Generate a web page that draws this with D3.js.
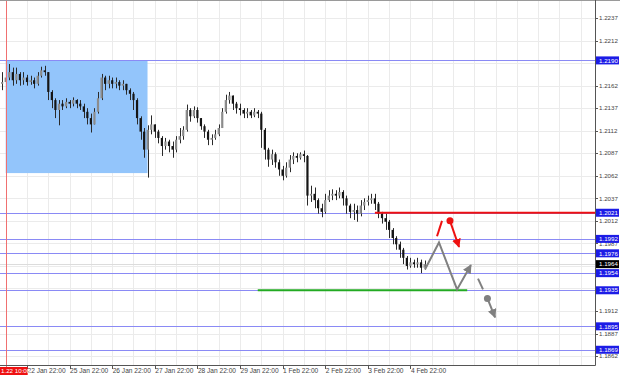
<!DOCTYPE html>
<html>
<head>
<meta charset="utf-8">
<script src="https://cdnjs.cloudflare.com/ajax/libs/d3/7.8.5/d3.min.js"></script>
<style>
  body { margin: 0; background: #fff; }
  svg { display: block; font-family: "Liberation Sans", Arial, sans-serif; }
</style>
</head>
<body>
<div id="plot"></div>
<script>
// H2 bars, first bar opens 22 Jan 07:00 (hour -15 relative to 22 Jan 22:00)
const startHour = -15;
const firstOpen = 1.2164;
const closes = [
  1.2166, 1.2171, 1.2177, 1.2168, 1.2175, 1.2168, 1.2171, 1.2166, 1.2168, 1.2164,
  1.2173, 1.2179, 1.2177, 1.2155, 1.2146, 1.2135, 1.2142, 1.2139, 1.2144, 1.2142,
  1.2146, 1.2142, 1.2139, 1.2133, 1.2126, 1.2119, 1.2133, 1.2148, 1.2171, 1.2164,
  1.2168, 1.2164, 1.2166, 1.2162, 1.2164, 1.2157, 1.2153, 1.2146, 1.2126, 1.2111,
  1.2091, 1.2113, 1.2119, 1.2111, 1.2104, 1.2095, 1.2100, 1.2095, 1.2091, 1.2102,
  1.2106, 1.2113, 1.2135, 1.2128, 1.2135, 1.2126, 1.2117, 1.2111, 1.2102, 1.2104,
  1.2108, 1.2115, 1.2133, 1.2146, 1.2151, 1.2142, 1.2137, 1.2135, 1.2131, 1.2133,
  1.2129, 1.2133, 1.2131, 1.2113, 1.2091, 1.2080, 1.2086, 1.2077, 1.2069, 1.2062,
  1.2071, 1.2080, 1.2084, 1.2082, 1.2086, 1.2084, 1.2040, 1.2042, 1.2035, 1.2026,
  1.2022, 1.2035, 1.2040, 1.2042, 1.2040, 1.2044, 1.2037, 1.2029, 1.2022, 1.2024,
  1.2020, 1.2029, 1.2033, 1.2035, 1.2037, 1.2031, 1.2020, 1.2015, 1.2011, 1.2002,
  1.1993, 1.1986, 1.1980, 1.1971, 1.1962, 1.1966, 1.1964, 1.1966, 1.1960, 1.1964
];
const highs = [
  1.2177, 1.2187, 1.2186, 1.2182, 1.2182, 1.2177, 1.2177, 1.2174, 1.2173, 1.2171,
  1.2177, 1.2183, 1.2184, 1.2177, 1.2157, 1.2148, 1.2146, 1.2146, 1.2148, 1.2146,
  1.2149, 1.2147, 1.2146, 1.2142, 1.2137, 1.2131, 1.2137, 1.2155, 1.2175, 1.2173,
  1.2173, 1.2171, 1.2171, 1.2168, 1.2168, 1.2164, 1.2159, 1.2155, 1.2148, 1.2128,
  1.2115, 1.2118, 1.2129, 1.2119, 1.2113, 1.2106, 1.2104, 1.2102, 1.2100, 1.2106,
  1.2115, 1.2117, 1.2141, 1.2137, 1.2139, 1.2138, 1.2126, 1.2119, 1.2113, 1.2108,
  1.2113, 1.2119, 1.2137, 1.2152, 1.2155, 1.2151, 1.2144, 1.2142, 1.2137, 1.2137,
  1.2135, 1.2137, 1.2135, 1.2133, 1.2115, 1.2093, 1.2091, 1.2088, 1.2080, 1.2073,
  1.2077, 1.2085, 1.2088, 1.2087, 1.2088, 1.2090, 1.2085, 1.2051, 1.2049, 1.2037,
  1.2031, 1.2042, 1.2046, 1.2047, 1.2046, 1.2049, 1.2046, 1.2040, 1.2031, 1.2031,
  1.2029, 1.2035, 1.2037, 1.2040, 1.2042, 1.2042, 1.2033, 1.2022, 1.2020, 1.2013,
  1.2004, 1.1995, 1.1989, 1.1982, 1.1973, 1.1971, 1.1969, 1.1971, 1.1969, 1.1968
];
const lows = [
  1.2157, 1.2159, 1.2168, 1.2162, 1.2164, 1.2162, 1.2163, 1.2162, 1.2163, 1.2159,
  1.2162, 1.2171, 1.2173, 1.2146, 1.2137, 1.2126, 1.2118, 1.2135, 1.2137, 1.2137,
  1.2139, 1.2137, 1.2135, 1.2126, 1.2119, 1.2110, 1.2122, 1.2131, 1.2146, 1.2157,
  1.2159, 1.2159, 1.2159, 1.2157, 1.2157, 1.2152, 1.2146, 1.2135, 1.2119, 1.2102,
  1.2082, 1.2060, 1.2108, 1.2104, 1.2098, 1.2084, 1.2091, 1.2088, 1.2082, 1.2088,
  1.2098, 1.2102, 1.2111, 1.2122, 1.2126, 1.2121, 1.2113, 1.2104, 1.2096, 1.2096,
  1.2102, 1.2106, 1.2115, 1.2131, 1.2142, 1.2135, 1.2131, 1.2129, 1.2126, 1.2126,
  1.2126, 1.2127, 1.2126, 1.2093, 1.2080, 1.2072, 1.2074, 1.2071, 1.2062, 1.2057,
  1.2060, 1.2066, 1.2075, 1.2077, 1.2080, 1.2077, 1.2029, 1.2033, 1.2026, 1.2020,
  1.2016, 1.2020, 1.2033, 1.2035, 1.2035, 1.2037, 1.2029, 1.2020, 1.2015, 1.2013,
  1.2011, 1.2017, 1.2024, 1.2029, 1.2031, 1.2024, 1.2015, 1.2009, 1.2002, 1.1993,
  1.1986, 1.1980, 1.1971, 1.1964, 1.1958, 1.1960, 1.1960, 1.1960, 1.1954, 1.1958
];

const dateTicks = [0, 24, 48, 72, 96, 120, 144, 168, 192, 216];
const dateLabels = ["22 Jan 22:00", "25 Jan 22:00", "26 Jan 22:00", "27 Jan 22:00", "28 Jan 22:00",
                    "29 Jan 22:00", "1 Feb 22:00", "2 Feb 22:00", "3 Feb 22:00", "4 Feb 22:00"];
const gridHours = [-12, 0, 12, 24, 36, 48, 60, 72, 84, 96, 108, 120, 132, 144, 156, 168,
                   180, 192, 204, 216, 228, 240, 252, 264, 276, 288, 300, 312];
const priceTicks = [1.1862, 1.1887, 1.1912, 1.1937, 1.1962, 1.1987, 1.2012, 1.2037,
                    1.2062, 1.2087, 1.2112, 1.2137, 1.2162, 1.2187, 1.2212, 1.2237];

const levelPrices = [1.2190, 1.2021, 1.1992, 1.1976, 1.1954, 1.1935, 1.1895, 1.1869];
const bidPrice = 1.1964;
const markerHour = -12;
const markerLabel = "1.22 10:00";
const zoneHours = [-12, 67.9];
const zonePrices = [1.2190, 1.2065];
const redLevel = { price: 1.2021, from: 196 };
const greenLevel = { price: 1.1935, from: 130, to: 248 };

// forecast sketch, [hour, price]
const grayZigzag = [[224.2, 1.1958], [232.1, 1.1988], [242.3, 1.1936], [250.1, 1.1963]];
const grayDash = [[254.1, 1.1948], [256.9, 1.1936]];
const grayDrop = [[259.4, 1.1926], [263.7, 1.1905]];
const redDash = [[231.0, 1.1995], [233.8, 1.2012]];
const redDrop = [[238.3, 1.2012], [243.4, 1.1983]];

const W = 620, H = 376;
const plotRight = 595, plotBottom = 365;

const svg = d3.select("#plot").append("svg")
  .attr("width", W)
  .attr("height", H);

const x = d3.scaleLinear().domain([-15.21, 320]).range([0, plotRight]);
const y = d3.scaleLinear().domain([1.18521, 1.22548]).range([plotBottom, 2]);
const crisp = v => Math.round(v) + 0.5;

const defs = svg.append("defs");
function arrowMarker(id, color) {
  defs.append("marker")
    .attr("id", id)
    .attr("viewBox", "0 0 10 10")
    .attr("refX", 9).attr("refY", 5)
    .attr("markerUnits", "userSpaceOnUse")
    .attr("markerWidth", 9).attr("markerHeight", 9)
    .attr("orient", "auto")
    .append("path")
    .attr("d", "M0,0L10,5L0,10z")
    .attr("fill", color);
}
arrowMarker("arrGray", "#808080");
arrowMarker("arrRed", "#ee1111");

// grid
svg.append("g").selectAll("line").data(gridHours).join("line")
  .attr("x1", d => crisp(x(d))).attr("x2", d => crisp(x(d)))
  .attr("y1", 1).attr("y2", plotBottom)
  .attr("stroke", "#ebebeb");
svg.append("g").selectAll("line").data(priceTicks).join("line")
  .attr("x1", 0).attr("x2", plotRight)
  .attr("y1", d => crisp(y(d))).attr("y2", d => crisp(y(d)))
  .attr("stroke", "#ebebeb");

// zone rectangle
svg.append("rect")
  .attr("x", x(zoneHours[0]))
  .attr("y", y(zonePrices[0]))
  .attr("width", x(zoneHours[1]) - x(zoneHours[0]))
  .attr("height", y(zonePrices[1]) - y(zonePrices[0]))
  .attr("fill", "#93c5fb");

// horizontal levels
svg.append("g").selectAll("line").data(levelPrices).join("line")
  .attr("x1", 0).attr("x2", plotRight)
  .attr("y1", d => crisp(y(d))).attr("y2", d => crisp(y(d)))
  .attr("stroke", "#8a8af5");
svg.append("line")
  .attr("x1", 0).attr("x2", plotRight)
  .attr("y1", crisp(y(bidPrice))).attr("y2", crisp(y(bidPrice)))
  .attr("stroke", "#dcdcdc");

// candles
const bars = closes.map((c, i) => {
  const o = i === 0 ? firstOpen : closes[i - 1];
  return { h: startHour + 2 * i + 1, o, c, hi: Math.max(highs[i], o, c), lo: Math.min(lows[i], o, c) };
});
const barG = svg.append("g");
barG.selectAll("line").data(bars).join("line")
  .attr("x1", d => crisp(x(d.h))).attr("x2", d => crisp(x(d.h)))
  .attr("y1", d => y(d.hi)).attr("y2", d => y(d.lo))
  .attr("stroke", "#2a2a2a");
barG.selectAll("rect").data(bars).join("rect")
  .attr("x", d => x(d.h) - 1.1)
  .attr("width", 2.2)
  .attr("y", d => y(Math.max(d.o, d.c)))
  .attr("height", d => Math.max(1, Math.abs(y(d.o) - y(d.c))))
  .attr("fill", d => d.c >= d.o ? "#8c8c8c" : "#151515");

// red vertical marker
svg.append("line")
  .attr("x1", crisp(x(markerHour))).attr("x2", crisp(x(markerHour)))
  .attr("y1", 0).attr("y2", plotBottom + 2)
  .attr("stroke", "#f07070");

// red resistance & green support segments
svg.append("line")
  .attr("x1", x(redLevel.from)).attr("x2", plotRight)
  .attr("y1", y(redLevel.price)).attr("y2", y(redLevel.price))
  .attr("stroke", "#ee1111").attr("stroke-width", 2);
svg.append("line")
  .attr("x1", x(greenLevel.from)).attr("x2", x(greenLevel.to))
  .attr("y1", y(greenLevel.price)).attr("y2", y(greenLevel.price))
  .attr("stroke", "#22aa22").attr("stroke-width", 2);

// forecast sketch
const path = d3.line().x(d => x(d[0])).y(d => y(d[1]));
function sketch(pts, color, marker) {
  svg.append("path")
    .attr("d", path(pts))
    .attr("fill", "none")
    .attr("stroke", color)
    .attr("stroke-width", 2)
    .attr("stroke-linejoin", "miter")
    .attr("marker-end", marker ? `url(#${marker})` : null);
}
sketch(grayZigzag, "#808080", "arrGray");
sketch(grayDash, "#808080", null);
sketch(grayDrop, "#808080", "arrGray");
sketch(redDash, "#ee1111", null);
sketch(redDrop, "#ee1111", "arrRed");
svg.append("circle").attr("cx", x(grayDrop[0][0])).attr("cy", y(grayDrop[0][1])).attr("r", 3.5).attr("fill", "#808080");
svg.append("circle").attr("cx", x(redDrop[0][0])).attr("cy", y(redDrop[0][1])).attr("r", 3.5).attr("fill", "#ee1111");

// frame
svg.append("line").attr("x1", 0).attr("x2", W).attr("y1", 0.5).attr("y2", 0.5).attr("stroke", "#9a9a9a");
svg.append("line").attr("x1", plotRight + 0.5).attr("x2", plotRight + 0.5)
  .attr("y1", 0).attr("y2", plotBottom + 0.5).attr("stroke", "#555");
svg.append("line").attr("x1", 0).attr("x2", plotRight + 0.5)
  .attr("y1", plotBottom + 0.5).attr("y2", plotBottom + 0.5).attr("stroke", "#555");

// time axis
const tg = svg.append("g");
tg.selectAll("line").data(dateTicks).join("line")
  .attr("x1", d => crisp(x(d))).attr("x2", d => crisp(x(d)))
  .attr("y1", plotBottom).attr("y2", plotBottom + 4)
  .attr("stroke", "#555");
tg.selectAll("text").data(dateTicks).join("text")
  .attr("x", d => x(d) + 0.5)
  .attr("y", plotBottom + 7.8)
  .attr("font-size", 6.6)
  .attr("fill", "#444")
  .text((d, i) => dateLabels[i]);

// price axis: tick labels fully covered by a level box are not drawn
const boxed = levelPrices.concat([bidPrice]);
const pg = svg.append("g");
pg.selectAll("line").data(priceTicks).join("line")
  .attr("x1", plotRight).attr("x2", plotRight + 3)
  .attr("y1", d => crisp(y(d))).attr("y2", d => crisp(y(d)))
  .attr("stroke", "#555");
pg.selectAll("text")
  .data(priceTicks.filter(t => !boxed.some(b => Math.abs(y(b) - y(t)) < 3.5)))
  .join("text")
  .attr("x", plotRight + 4)
  .attr("y", d => y(d) + 2.2)
  .attr("font-size", 6.2)
  .attr("fill", "#444")
  .text(d => d.toFixed(4));

function priceBox(p, color) {
  pg.append("rect")
    .attr("x", plotRight + 1).attr("y", y(p) - 4)
    .attr("width", 23).attr("height", 8)
    .attr("fill", color);
  pg.append("text")
    .attr("x", plotRight + 4).attr("y", y(p) + 2.2)
    .attr("font-size", 6.2).attr("fill", "#fff")
    .text(p.toFixed(4));
}
levelPrices.forEach(p => priceBox(p, "#1c1ce6"));
priceBox(bidPrice, "#000");

// time marker label
svg.append("rect")
  .attr("x", 0).attr("y", plotBottom + 2)
  .attr("width", x(markerHour) + 22).attr("height", 8)
  .attr("fill", "#ee1111");
svg.append("text")
  .attr("x", 1).attr("y", plotBottom + 8.2)
  .attr("font-size", 6.2).attr("fill", "#fff")
  .text(markerLabel);
</script>
</body>
</html>
